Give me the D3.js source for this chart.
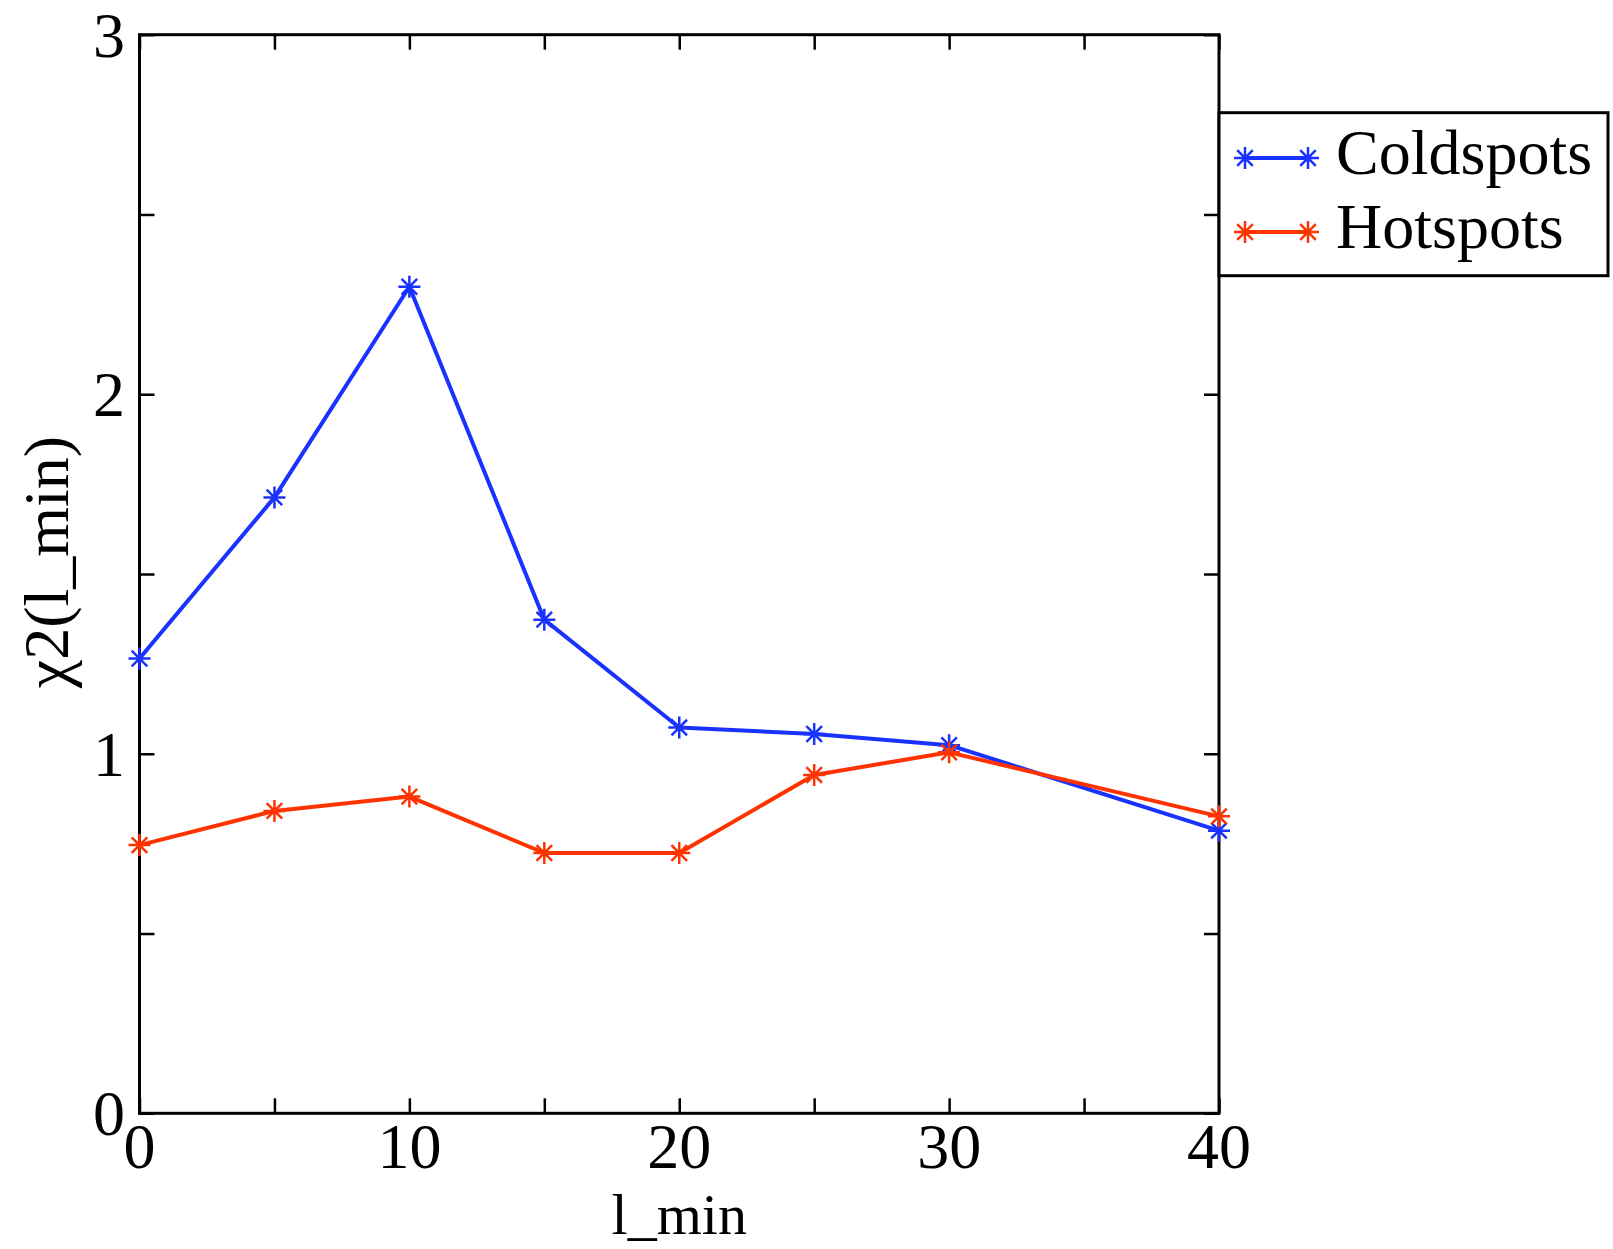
<!DOCTYPE html>
<html>
<head>
<meta charset="utf-8">
<script src="https://cdn.jsdelivr.net/npm/d3@7/dist/d3.min.js"></script>
<style>
  html, body { margin: 0; padding: 0; background: #fff; }
  svg { display: block; }
</style>
</head>
<body>
<script>
const lmin = [0, 5, 10, 15, 20, 25, 30, 40];
const coldspots = [1.265, 1.713, 2.299, 1.373, 1.073, 1.055, 1.024, 0.786];
const hotspots = [0.746, 0.841, 0.881, 0.724, 0.724, 0.941, 1.004, 0.826];
const seriesNames = ["Coldspots", "Hotspots"];
const seriesColors = ["#1a32ff", "#ff3300"];
const xTickLabels = [0, 10, 20, 30, 40];
const yTickLabels = [0, 1, 2, 3];

const W = 1613, H = 1249;
const L = 139.5, R = 1219, T = 34.7, B = 1113.3;
const FONT = "'Liberation Serif', 'Times New Roman', Times, serif";

const svg = d3.select("body").append("svg").attr("width", W).attr("height", H)
  .attr("font-family", FONT);

const x = d3.scaleLinear().domain([0, 40]).range([L, R]);
const y = d3.scaleLinear().domain([0, 3]).range([B, T]);

const fs = 64;
const tickLen = 15;
const axisW = 3;

const xTicks = d3.range(0, 40.001, 5);
const yTicks = d3.range(0, 3.001, 0.5);

const g = svg.append("g");

const xAxisB = d3.axisBottom(x).tickValues(xTicks).tickSizeInner(-tickLen).tickSizeOuter(0).tickFormat("");
const xAxisT = d3.axisTop(x).tickValues(xTicks).tickSizeInner(-tickLen).tickSizeOuter(0).tickFormat("");
const yAxisL = d3.axisLeft(y).tickValues(yTicks).tickSizeInner(-tickLen).tickSizeOuter(0).tickFormat("");
const yAxisR = d3.axisRight(y).tickValues(yTicks).tickSizeInner(-tickLen).tickSizeOuter(0).tickFormat("");

function styleAxis(sel) {
  sel.selectAll("path.domain").remove();
  sel.selectAll(".tick line").attr("stroke", "#000").attr("stroke-width", 2.5);
}
g.append("g").attr("transform", `translate(0,${B})`).call(xAxisB).call(styleAxis);
g.append("g").attr("transform", `translate(0,${T})`).call(xAxisT).call(styleAxis);
g.append("g").attr("transform", `translate(${L},0)`).call(yAxisL).call(styleAxis);
g.append("g").attr("transform", `translate(${R},0)`).call(yAxisR).call(styleAxis);

g.append("rect").attr("x", L).attr("y", T).attr("width", R - L).attr("height", B - T)
  .attr("fill", "none").attr("stroke", "#000").attr("stroke-width", axisW);

function txt(sel) {
  return sel.attr("font-family", FONT).attr("fill", "#000").attr("font-size", fs);
}

g.selectAll(".xl").data(xTickLabels).enter().append("text")
  .attr("x", d => x(d)).attr("y", 1168)
  .attr("text-anchor", "middle").call(txt).text(d => d);
g.selectAll(".yl").data(yTickLabels).enter().append("text")
  .attr("x", 125).attr("y", d => y(d) + 22)
  .attr("text-anchor", "end").call(txt).text(d => d);

g.append("text").attr("x", (L + R) / 2).attr("y", 1234)
  .attr("text-anchor", "middle").call(txt).attr("font-size", 58).text("l_min");
g.append("text").attr("transform", `translate(68,${(T + B) / 2 - 12}) rotate(-90)`)
  .attr("text-anchor", "middle").call(txt).text("χ2(l_min)");

function starPath(r) {
  const d = r * Math.SQRT1_2;
  return `M${-r},0L${r},0M0,${-r}L0,${r}M${-d},${-d}L${d},${d}M${-d},${d}L${d},${-d}`;
}

const series = [coldspots, hotspots];
const line = d3.line().x((d, i) => x(lmin[i])).y(d => y(d));

series.forEach((vals, si) => {
  const col = seriesColors[si];
  svg.append("path").datum(vals).attr("d", line)
    .attr("fill", "none").attr("stroke", col).attr("stroke-width", 4)
    .attr("stroke-linejoin", "round");
  svg.selectAll(".m" + si).data(vals).enter().append("path")
    .attr("transform", (d, i) => `translate(${x(lmin[i])},${y(d)})`)
    .attr("d", starPath(11)).attr("stroke", col).attr("stroke-width", 2.5).attr("fill", "none");
});

const lg = svg.append("g");
lg.append("rect").attr("x", R).attr("y", 112.7).attr("width", 1608 - R).attr("height", 275.7 - 112.7)
  .attr("fill", "#fff").attr("stroke", "#000").attr("stroke-width", axisW);
const legY = [158, 232];
seriesNames.forEach((name, i) => {
  const col = seriesColors[i];
  lg.append("line").attr("x1", 1245).attr("x2", 1308).attr("y1", legY[i]).attr("y2", legY[i])
    .attr("stroke", col).attr("stroke-width", 4);
  [1245, 1308].forEach(px => {
    lg.append("path").attr("transform", `translate(${px},${legY[i]})`)
      .attr("d", starPath(11)).attr("stroke", col).attr("stroke-width", 2.5).attr("fill", "none");
  });
  lg.append("text").attr("x", 1336).attr("y", legY[i] + 16).call(txt).text(name);
});
</script>
</body>
</html>
